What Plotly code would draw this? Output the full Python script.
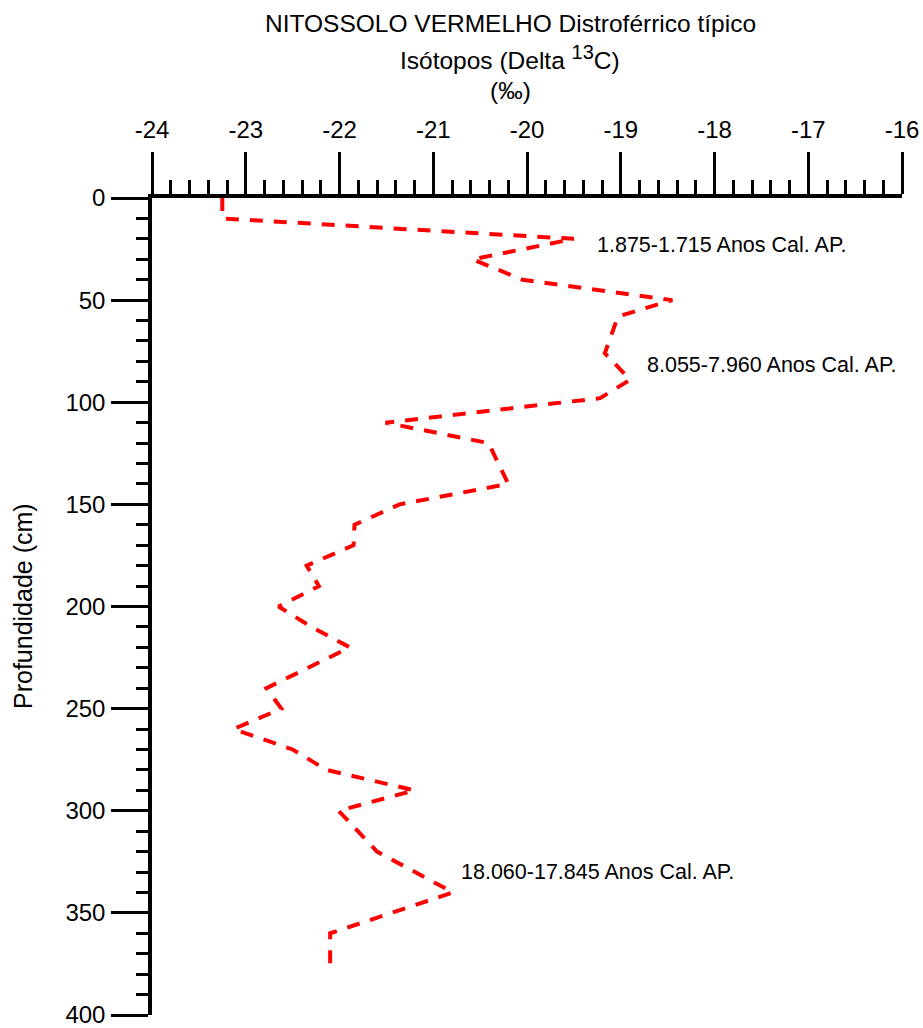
import plotly.graph_objects as go

# Data
depth_cm = [0, 10, 20, 30, 40, 50, 58, 76, 89, 98, 110, 120, 140, 150, 160, 170,
            180, 190, 200, 210, 220, 240, 250, 260, 270, 280, 290, 300, 320, 340, 360, 376]
delta13c = [-23.25, -23.25, -19.5, -20.58, -20.05, -18.45, -19.03, -19.17, -18.9, -19.22,
            -21.51, -20.41, -20.2, -21.36, -21.84, -21.85, -22.35, -22.22, -22.65, -22.3,
            -21.89, -22.78, -22.62, -23.13, -22.5, -22.14, -21.2, -22.01, -21.6, -20.79,
            -22.1, -22.1]

x_ticks = [-24, -23, -22, -21, -20, -19, -18, -17, -16]
y_ticks = [0, 50, 100, 150, 200, 250, 300, 350, 400]

age_labels = ["1.875-1.715 Anos Cal. AP.", "8.055-7.960 Anos Cal. AP.", "18.060-17.845 Anos Cal. AP."]
age_x = [-19.27, -18.74, -20.73]
age_y = [23, 82, 330]

title_lines = ["NITOSSOLO VERMELHO Distroférrico típico",
               "Isótopos (Delta <sup><span style='font-size:20px'>13</span></sup>C)",
               "(‰)"]
y_title = "Profundidade (cm)"

FONT = "Liberation Sans, Arial, sans-serif"

fig = go.Figure()
fig.add_trace(go.Scatter(
    x=delta13c, y=depth_cm, mode="lines",
    line=dict(color="#ff0000", width=4, dash="13px,11px"),
    showlegend=False, hoverinfo="skip",
))

W, H = 923, 1028
L, R, T, B = 152, 21, 198, 13
pw = W - L - R
ph = H - T - B

fig.update_layout(
    width=W, height=H,
    margin=dict(l=L, r=R, t=T, b=B, pad=0, autoexpand=False),
    paper_bgcolor="white", plot_bgcolor="white",
    font=dict(family=FONT, color="black", size=24),
    xaxis=dict(
        side="top", range=[-24, -16], tickvals=x_ticks,
        ticktext=[str(v) for v in x_ticks],
        showgrid=False, zeroline=False, automargin=False,
        showline=True, linecolor="black", linewidth=3.5,
        ticks="outside", ticklen=42, tickwidth=3, tickcolor="black",
        tickfont=dict(size=24, family=FONT),
        ticklabelstandoff=5, ticklabeloverflow="allow",
        minor=dict(dtick=0.2, tick0=-24, ticks="outside", ticklen=14, tickwidth=3,
                   tickcolor="black", showgrid=False),
    ),
    yaxis=dict(
        range=[400, 0], tickvals=y_ticks,
        ticktext=[str(v) for v in y_ticks],
        showgrid=False, zeroline=False, automargin=False,
        showline=True, linecolor="black", linewidth=3.5,
        ticks="outside", ticklen=37, tickwidth=3, tickcolor="black",
        tickfont=dict(size=24, family=FONT),
        ticklabelstandoff=1, ticklabeloverflow="allow",
        minor=dict(dtick=10, tick0=0, ticks="outside", ticklen=12, tickwidth=3,
                   tickcolor="black", showgrid=False),
    ),
)

ann = []
title_y_px = [23, 58, 91]
for txt, ypx in zip(title_lines, title_y_px):
    ann.append(dict(text=txt, xref="paper", yref="paper",
                    x=(510 - L) / pw, y=(H - B - ypx) / ph,
                    xanchor="center", yanchor="middle", showarrow=False,
                    font=dict(size=24.5, family=FONT, color="black")))
ann.append(dict(text=y_title, xref="paper", yref="paper",
                x=(23 - L) / pw, y=(H - B - 606) / ph, textangle=-90,
                xanchor="center", yanchor="middle", showarrow=False,
                font=dict(size=25, family=FONT, color="black")))
for txt, xv, yv in zip(age_labels, age_x, age_y):
    ann.append(dict(text=txt, x=xv, y=yv, xref="x", yref="y",
                    xanchor="left", yanchor="middle", showarrow=False,
                    font=dict(size=21.5, family=FONT, color="black")))
fig.update_layout(annotations=ann)

fig.write_html(
    "out.html",
    config={"displayModeBar": False},
    post_script="document.body.style.margin='0';document.body.style.overflow='hidden';",
)
